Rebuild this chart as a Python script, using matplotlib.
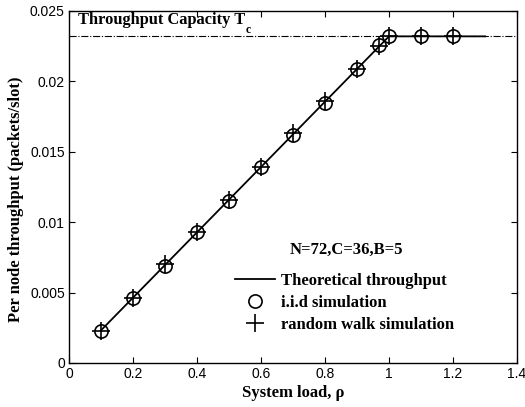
import numpy as np
import matplotlib.pyplot as plt

# data
rho_theory = [0.1, 0.2, 0.3, 0.4, 0.5, 0.6, 0.7, 0.8, 0.9, 1.0, 1.3]
thr_theory = [0.00232, 0.00464, 0.00696, 0.00928, 0.0116, 0.01392,
              0.01624, 0.01856, 0.02088, 0.0232, 0.0232]

rho_iid = [0.1, 0.2, 0.3, 0.4, 0.5, 0.6, 0.7, 0.8, 0.9, 0.97, 1.0, 1.1, 1.2]
thr_iid = [0.0023, 0.0046, 0.0069, 0.0093, 0.0115, 0.0139,
           0.0162, 0.0185, 0.0209, 0.0226, 0.0232, 0.0232, 0.0232]

rho_rw = [0.1, 0.2, 0.3, 0.4, 0.5, 0.6, 0.7, 0.8, 0.9, 0.97, 1.0, 1.1, 1.2]
thr_rw = [0.0023, 0.0046, 0.0070, 0.0093, 0.0116, 0.0139,
          0.0163, 0.0186, 0.0209, 0.0225, 0.0232, 0.0232, 0.0232]

Tc = 0.0232

serif = 'Liberation Serif'
sans = 'Liberation Sans'

fig = plt.figure(figsize=(5.25, 4.07), dpi=100)
ax = fig.add_axes([69/525, 1 - 363/407, 448/525, 352/407])

ax.axhline(Tc, color='k', linestyle='-.', linewidth=0.8)
ax.plot(rho_theory, thr_theory, color='k', linewidth=1.3, label='Theoretical throughput')
ax.plot(rho_iid, thr_iid, linestyle='none', marker='o', markersize=9.5,
        markerfacecolor='none', markeredgecolor='k', markeredgewidth=1.2,
        label='i.i.d simulation')
ax.plot(rho_rw, thr_rw, linestyle='none', marker='+', markersize=13,
        markeredgecolor='k', markeredgewidth=1.2, label='random walk simulation')

ax.set_xlim(0, 1.4)
ax.set_ylim(0, 0.025)
ax.set_xticks(np.arange(0, 1.41, 0.2))
ax.set_xticklabels(['0', '0.2', '0.4', '0.6', '0.8', '1', '1.2', '1.4'])
ax.set_yticks([0, 0.005, 0.01, 0.015, 0.02, 0.025])
ax.set_yticklabels(['0', '0.005', '0.01', '0.015', '0.02', '0.025'])
ax.tick_params(direction='in', top=True, right=True, length=4, labelsize=10, pad=3)
for lab in ax.get_xticklabels() + ax.get_yticklabels():
    lab.set_family(sans)

ax.set_xlabel('System load, ρ', fontsize=12, fontweight='bold', family=serif)
ax.set_ylabel('Per node throughput (packets/slot)', fontsize=12, fontweight='bold',
              family=serif)
ax.xaxis.set_label_coords(0.5, -0.063)
ax.yaxis.set_label_coords(-0.100, 0.466)

# capacity label with subscript c
t = ax.text(0.028, 0.02436, 'Throughput Capacity T', fontsize=11.8, fontweight='bold',
            family=serif, va='center')
ax.annotate('c', xy=(1, 0), xycoords=t, xytext=(0.5, -1.5), textcoords='offset points',
            fontsize=8.5, fontweight='bold', family=serif, va='center')

ax.text(0.866, 0.0080, 'N=72,C=36,B=5', fontsize=12, fontweight='bold', family=serif,
        ha='center', va='center')

leg = ax.legend(loc='upper left', bbox_to_anchor=(0.37, 0.257), frameon=False,
                prop={'family': serif, 'weight': 'bold', 'size': 12},
                handlelength=2.4, handletextpad=0.4, labelspacing=0.38,
                borderpad=0, borderaxespad=0)

for s in ax.spines.values():
    s.set_linewidth(1.0)

fig.savefig('out.png', dpi=100)
